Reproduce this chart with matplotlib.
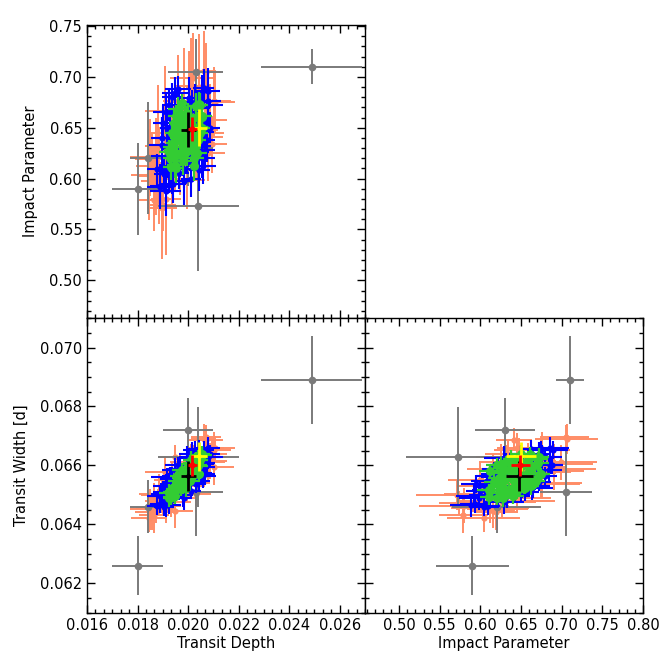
import matplotlib
matplotlib.use("Agg")
import matplotlib.pyplot as plt
from matplotlib.ticker import MultipleLocator, AutoMinorLocator, FormatStrFormatter

# --- data: (transit depth, impact parameter, transit width [d]) with errors ---
# gray: individual fits
gray_depth = [0.0180, 0.0249, 0.0203, 0.0204, 0.0200, 0.0184]
gray_b = [0.590, 0.710, 0.705, 0.573, 0.630, 0.620]
gray_width = [0.0626, 0.0689, 0.0651, 0.0663, 0.0672, 0.0646]
gray_derr = [0.0010, 0.0020, 0.0011, 0.0016, 0.0010, 0.0007]
gray_berr = [0.045, 0.017, 0.032, 0.064, 0.037, 0.055]
gray_werr = [0.0010, 0.0015, 0.0015, 0.0017, 0.0011, 0.0009]

# orange
orange_depth = [0.01866, 0.01846, 0.01901, 0.01850, 0.01898, 0.01949, 0.01864, 0.01936, 0.01913,
                0.01989, 0.01886, 0.01983, 0.01935, 0.02032, 0.01909, 0.01995, 0.02042, 0.01947,
                0.02005, 0.02078, 0.01985, 0.02068, 0.02018, 0.02072, 0.02011, 0.02107, 0.02061,
                0.02101, 0.02071, 0.01932, 0.01858, 0.02022, 0.01968, 0.02101, 0.01961, 0.02070,
                0.02095, 0.02085, 0.01872, 0.01880]
orange_b = [0.579, 0.604, 0.574, 0.621, 0.571, 0.615, 0.598, 0.645, 0.580,
            0.637, 0.603, 0.667, 0.600, 0.631, 0.666, 0.599, 0.690, 0.631,
            0.675, 0.625, 0.670, 0.648, 0.699, 0.645, 0.691, 0.675, 0.706,
            0.676, 0.705, 0.627, 0.619, 0.645, 0.616, 0.675, 0.676, 0.641,
            0.634, 0.658, 0.612, 0.632]
orange_width = [0.06431, 0.06423, 0.06472, 0.06452, 0.06500, 0.06447, 0.06499, 0.06490, 0.06464,
                0.06543, 0.06502, 0.06574, 0.06551, 0.06504, 0.06579, 0.06532, 0.06587, 0.06629,
                0.06540, 0.06612, 0.06583, 0.06653, 0.06611, 0.06660, 0.06604, 0.06659, 0.06689,
                0.06654, 0.06697, 0.06475, 0.06443, 0.06625, 0.06589, 0.06594, 0.06536, 0.06688,
                0.06640, 0.06615, 0.06455, 0.06480]
orange_derr = [0.0006, 0.0007, 0.0005, 0.0008, 0.0006, 0.0007, 0.0005, 0.0009, 0.0006,
               0.0007, 0.0008, 0.0005, 0.0007, 0.0006, 0.0008, 0.0007, 0.0005, 0.0006,
               0.0008, 0.0007, 0.0006, 0.0005, 0.0009, 0.0007, 0.0006, 0.0008, 0.0005,
               0.0007, 0.0006, 0.0008, 0.0007, 0.0006, 0.0005, 0.0008, 0.0006, 0.0007,
               0.0006, 0.0007, 0.0008, 0.0005]
orange_berr = [0.030, 0.045, 0.025, 0.038, 0.050, 0.028, 0.035, 0.042, 0.055,
               0.030, 0.048, 0.026, 0.040, 0.033, 0.045, 0.029, 0.052, 0.036,
               0.050, 0.027, 0.058, 0.031, 0.044, 0.025, 0.047, 0.030, 0.039,
               0.034, 0.028, 0.041, 0.026, 0.037, 0.032, 0.030, 0.046, 0.022,
               0.028, 0.035, 0.048, 0.060]
orange_werr = [0.0006, 0.0005, 0.0004, 0.0007, 0.0005, 0.0006, 0.0004, 0.0005, 0.0006,
               0.0004, 0.0007, 0.0005, 0.0006, 0.0004, 0.0005, 0.0006, 0.0007, 0.0004,
               0.0005, 0.0006, 0.0005, 0.0004, 0.0006, 0.0005, 0.0007, 0.0004, 0.0005,
               0.0006, 0.0004, 0.0005, 0.0006, 0.0004, 0.0005, 0.0006, 0.0005, 0.0004,
               0.0005, 0.0006, 0.0005, 0.0004]

# blue
blue_depth = [0.01904, 0.01887, 0.01932, 0.01911, 0.01933, 0.01896, 0.01963, 0.01924, 0.01940, 0.01980,
              0.01915, 0.01975, 0.01938, 0.02005, 0.01930, 0.01982, 0.01965, 0.02022, 0.01952, 0.02008,
              0.01969, 0.02031, 0.01996, 0.02036, 0.01978, 0.02031, 0.02005, 0.02065, 0.02028, 0.02062,
              0.02014, 0.02054, 0.02042, 0.02080, 0.02061, 0.02079, 0.02078, 0.01889, 0.01926, 0.01877,
              0.01900, 0.01912, 0.01925, 0.01935, 0.01948, 0.01895, 0.01918, 0.02055, 0.02068, 0.02075,
              0.02045, 0.02060, 0.02085, 0.01985, 0.02010, 0.01960]
blue_b = [0.605, 0.592, 0.622, 0.588, 0.611, 0.633, 0.606, 0.629, 0.595, 0.629,
          0.622, 0.651, 0.612, 0.626, 0.650, 0.609, 0.664, 0.626, 0.643, 0.665,
          0.622, 0.655, 0.629, 0.669, 0.646, 0.632, 0.679, 0.649, 0.675, 0.646,
          0.672, 0.685, 0.662, 0.676, 0.689, 0.672, 0.686, 0.593, 0.612, 0.609,
          0.655, 0.665, 0.672, 0.680, 0.684, 0.640, 0.650, 0.620, 0.628, 0.638,
          0.608, 0.612, 0.650, 0.598, 0.600, 0.688]
blue_width = [0.06458, 0.06495, 0.06490, 0.06465, 0.06528, 0.06495, 0.06518, 0.06475, 0.06538, 0.06500,
              0.06562, 0.06530, 0.06495, 0.06568, 0.06555, 0.06535, 0.06523, 0.06600, 0.06518, 0.06600,
              0.06588, 0.06538, 0.06625, 0.06563, 0.06563, 0.06603, 0.06630, 0.06575, 0.06653, 0.06605,
              0.06640, 0.06600, 0.06655, 0.06628, 0.06653, 0.06630, 0.06658, 0.06468, 0.06500, 0.06463,
              0.06510, 0.06530, 0.06545, 0.06565, 0.06585, 0.06505, 0.06520, 0.06570, 0.06595, 0.06610,
              0.06548, 0.06565, 0.06640, 0.06490, 0.06515, 0.06600]
blue_derr = [0.0004, 0.0005, 0.0003, 0.0006, 0.0004, 0.0005, 0.0004, 0.0003, 0.0005, 0.0004,
             0.0006, 0.0004, 0.0005, 0.0003, 0.0004, 0.0005, 0.0004, 0.0006, 0.0003, 0.0004,
             0.0005, 0.0004, 0.0003, 0.0005, 0.0004, 0.0006, 0.0004, 0.0003, 0.0005, 0.0004,
             0.0005, 0.0003, 0.0004, 0.0005, 0.0004, 0.0006, 0.0005, 0.0004, 0.0003, 0.0004,
             0.0004, 0.0005, 0.0003, 0.0004, 0.0005, 0.0004, 0.0003, 0.0005, 0.0004, 0.0003,
             0.0004, 0.0005, 0.0004, 0.0003, 0.0004, 0.0005]
blue_berr = [0.018, 0.022, 0.015, 0.025, 0.020, 0.028, 0.016, 0.024, 0.019, 0.026,
             0.021, 0.017, 0.027, 0.015, 0.023, 0.018, 0.025, 0.014, 0.022, 0.016,
             0.020, 0.013, 0.024, 0.015, 0.019, 0.017, 0.021, 0.014, 0.018, 0.016,
             0.015, 0.017, 0.013, 0.016, 0.019, 0.020, 0.023, 0.018, 0.026, 0.015,
             0.017, 0.020, 0.015, 0.014, 0.016, 0.021, 0.018, 0.019, 0.016, 0.022,
             0.020, 0.017, 0.015, 0.024, 0.018, 0.013]
blue_werr = [0.0003, 0.0004, 0.0003, 0.0004, 0.0003, 0.0004, 0.0003, 0.0004, 0.0003, 0.0004,
             0.0003, 0.0004, 0.0003, 0.0003, 0.0004, 0.0003, 0.0004, 0.0003, 0.0004, 0.0003,
             0.0004, 0.0003, 0.0004, 0.0003, 0.0003, 0.0004, 0.0003, 0.0004, 0.0003, 0.0003,
             0.0004, 0.0003, 0.0003, 0.0004, 0.0003, 0.0004, 0.0004, 0.0003, 0.0004, 0.0003,
             0.0003, 0.0004, 0.0003, 0.0003, 0.0004, 0.0003, 0.0004, 0.0003, 0.0003, 0.0004,
             0.0003, 0.0004, 0.0003, 0.0004, 0.0003, 0.0003]

# green
green_depth = [0.01931, 0.01925, 0.01952, 0.01926, 0.01948, 0.01972, 0.01947, 0.01967, 0.01942,
               0.01966, 0.01986, 0.01957, 0.01979, 0.01955, 0.02007, 0.01978, 0.01997, 0.01976,
               0.01994, 0.02012, 0.01976, 0.02009, 0.01997, 0.02029, 0.01999, 0.02027, 0.01989,
               0.02018, 0.02042, 0.02010, 0.02039, 0.02032, 0.02054, 0.02031, 0.02054, 0.02049,
               0.01930, 0.01992, 0.01969, 0.02008, 0.01956, 0.02010,
               0.01938, 0.01945, 0.01952, 0.01960, 0.01942, 0.01962, 0.01970, 0.01975,
               0.02015, 0.02022, 0.02030, 0.02040, 0.02048, 0.02025, 0.02055, 0.02035]
green_b = [0.611, 0.628, 0.610, 0.626, 0.640, 0.623, 0.613, 0.641, 0.631,
           0.651, 0.625, 0.640, 0.617, 0.647, 0.640, 0.653, 0.627, 0.638,
           0.659, 0.648, 0.635, 0.657, 0.630, 0.647, 0.663, 0.645, 0.659,
           0.641, 0.673, 0.659, 0.651, 0.671, 0.661, 0.671, 0.662, 0.672,
           0.620, 0.641, 0.651, 0.649, 0.623, 0.645,
           0.645, 0.655, 0.662, 0.668, 0.635, 0.652, 0.664, 0.674,
           0.628, 0.620, 0.632, 0.638, 0.645, 0.612, 0.650, 0.625]
green_width = [0.06492, 0.06491, 0.06516, 0.06506, 0.06495, 0.06533, 0.06516, 0.06546, 0.06509,
               0.06541, 0.06528, 0.06564, 0.06544, 0.06529, 0.06563, 0.06523, 0.06576, 0.06566,
               0.06548, 0.06563, 0.06585, 0.06604, 0.06552, 0.06570, 0.06593, 0.06611, 0.06573,
               0.06592, 0.06572, 0.06619, 0.06599, 0.06621, 0.06634, 0.06608, 0.06634, 0.06628,
               0.06490, 0.06523, 0.06569, 0.06548, 0.06556, 0.06609,
               0.06512, 0.06525, 0.06530, 0.06548, 0.06520, 0.06538, 0.06555, 0.06570,
               0.06590, 0.06600, 0.06612, 0.06622, 0.06618, 0.06580, 0.06640, 0.06600]
green_derr = [0.0003, 0.0002, 0.0003, 0.0004, 0.0002, 0.0003, 0.0003, 0.0002, 0.0004,
              0.0003, 0.0002, 0.0003, 0.0004, 0.0003, 0.0002, 0.0003, 0.0004, 0.0003,
              0.0002, 0.0003, 0.0004, 0.0003, 0.0002, 0.0003, 0.0003, 0.0002, 0.0004,
              0.0003, 0.0002, 0.0003, 0.0004, 0.0003, 0.0002, 0.0003, 0.0004, 0.0003,
              0.0003, 0.0002, 0.0003, 0.0004, 0.0002, 0.0003,
              0.0003, 0.0002, 0.0003, 0.0004, 0.0003, 0.0002, 0.0003, 0.0002,
              0.0003, 0.0004, 0.0002, 0.0003, 0.0003, 0.0002, 0.0003, 0.0004]
green_berr = [0.012, 0.010, 0.014, 0.011, 0.013, 0.009, 0.012, 0.015, 0.010,
              0.012, 0.011, 0.014, 0.013, 0.010, 0.012, 0.011, 0.015, 0.010,
              0.012, 0.013, 0.011, 0.010, 0.014, 0.012, 0.011, 0.010, 0.013,
              0.009, 0.012, 0.011, 0.014, 0.012, 0.010, 0.013, 0.011, 0.012,
              0.013, 0.010, 0.012, 0.011, 0.014, 0.012,
              0.011, 0.013, 0.010, 0.012, 0.014, 0.011, 0.010, 0.009,
              0.012, 0.013, 0.011, 0.010, 0.012, 0.014, 0.011, 0.013]
green_werr = [0.00025, 0.00030, 0.00020, 0.00030, 0.00025, 0.00035, 0.00020, 0.00030, 0.00025,
              0.00030, 0.00020, 0.00025, 0.00030, 0.00035, 0.00025, 0.00020, 0.00030, 0.00025,
              0.00030, 0.00020, 0.00025, 0.00030, 0.00025, 0.00020, 0.00030, 0.00025, 0.00020,
              0.00030, 0.00025, 0.00030, 0.00020, 0.00025, 0.00030, 0.00025, 0.00020, 0.00030,
              0.00025, 0.00030, 0.00020, 0.00025, 0.00030, 0.00020,
              0.00025, 0.00020, 0.00030, 0.00025, 0.00020, 0.00030, 0.00025, 0.00020,
              0.00030, 0.00025, 0.00020, 0.00030, 0.00025, 0.00020, 0.00025, 0.00030]

# combined solutions
black_vals = (0.02000, 0.648, 0.06565)
black_errs = (0.00030, 0.017, 0.00050)
yellow_vals = (0.02043, 0.650, 0.06631)
yellow_errs = (0.00030, 0.018, 0.00048)
red_vals = (0.02016, 0.649, 0.06600)
red_errs = (0.00018, 0.012, 0.00034)

fig = plt.figure(figsize=(6.68, 6.68), dpi=100)
W = 668.0
ax_db = fig.add_axes([87 / W, 1 - 318 / W, 278 / W, 293 / W])
ax_dw = fig.add_axes([87 / W, 1 - 613 / W, 278 / W, 295 / W])
ax_bw = fig.add_axes([365 / W, 1 - 613 / W, 278 / W, 295 / W])


def draw(d, b, w, de, be, we, color, ms, lw, cap, z):
    kw = dict(fmt='o', color=color, ecolor=color, ms=ms, elinewidth=lw,
              capsize=cap, capthick=lw, zorder=z, mew=0)
    ax_db.errorbar(d, b, xerr=de, yerr=be, **kw)
    ax_dw.errorbar(d, w, xerr=de, yerr=we, **kw)
    ax_bw.errorbar(b, w, xerr=be, yerr=we, **kw)


draw(orange_depth, orange_b, orange_width, orange_derr, orange_berr, orange_werr,
     '#ff8c66', 4.5, 1.4, 3, 2)
draw(gray_depth, gray_b, gray_width, gray_derr, gray_berr, gray_werr,
     '#7a7a7a', 5.5, 1.4, 3.5, 3)
draw(blue_depth, blue_b, blue_width, blue_derr, blue_berr, blue_werr,
     '#0000ff', 4.5, 1.5, 3, 4)
draw(green_depth, green_b, green_width, green_derr, green_berr, green_werr,
     '#33cc33', 6.5, 1.6, 2.5, 5)
draw(*black_vals, *black_errs, 'black', 3.5, 2.0, 3.5, 6)
draw(*yellow_vals, *yellow_errs, '#ffff00', 3.5, 2.0, 3.5, 7)
draw(*red_vals, *red_errs, '#ff0000', 4.5, 2.0, 3.5, 8)

# axes ranges and ticks
ax_db.set_xlim(0.016, 0.027)
ax_db.set_ylim(0.463, 0.751)
ax_dw.set_xlim(0.016, 0.027)
ax_dw.set_ylim(0.061, 0.071)
ax_bw.set_xlim(0.458, 0.80)
ax_bw.set_ylim(0.061, 0.071)

for ax in (ax_db, ax_dw):
    ax.xaxis.set_major_locator(MultipleLocator(0.002))
    ax.xaxis.set_minor_locator(AutoMinorLocator(6))
    ax.xaxis.set_major_formatter(FormatStrFormatter('%.3f'))
ax_db.yaxis.set_major_locator(MultipleLocator(0.05))
ax_db.yaxis.set_minor_locator(AutoMinorLocator(5))
ax_db.yaxis.set_major_formatter(FormatStrFormatter('%.2f'))
for ax in (ax_dw, ax_bw):
    ax.yaxis.set_major_locator(MultipleLocator(0.002))
    ax.yaxis.set_minor_locator(AutoMinorLocator(4))
    ax.yaxis.set_major_formatter(FormatStrFormatter('%.3f'))
ax_bw.xaxis.set_major_locator(MultipleLocator(0.05))
ax_bw.xaxis.set_minor_locator(AutoMinorLocator(5))
ax_bw.xaxis.set_major_formatter(FormatStrFormatter('%.2f'))

for ax in (ax_db, ax_dw, ax_bw):
    ax.tick_params(which='both', direction='in', top=True, right=True,
                   labelsize=10.5, colors='black', width=1)
    ax.tick_params(which='major', length=6)
    ax.tick_params(which='minor', length=3)
    for s in ax.spines.values():
        s.set_linewidth(1.0)

ax_db.tick_params(labelbottom=False)
ax_bw.tick_params(labelleft=False)

ax_db.set_ylabel("Impact Parameter", fontsize=10.5, labelpad=8)
ax_dw.set_ylabel("Transit Width [d]", fontsize=10.5, labelpad=8)
ax_dw.set_xlabel("Transit Depth", fontsize=10.5, labelpad=2)
ax_bw.set_xlabel("Impact Parameter", fontsize=10.5, labelpad=2)

fig.savefig("out.png", dpi=100)
